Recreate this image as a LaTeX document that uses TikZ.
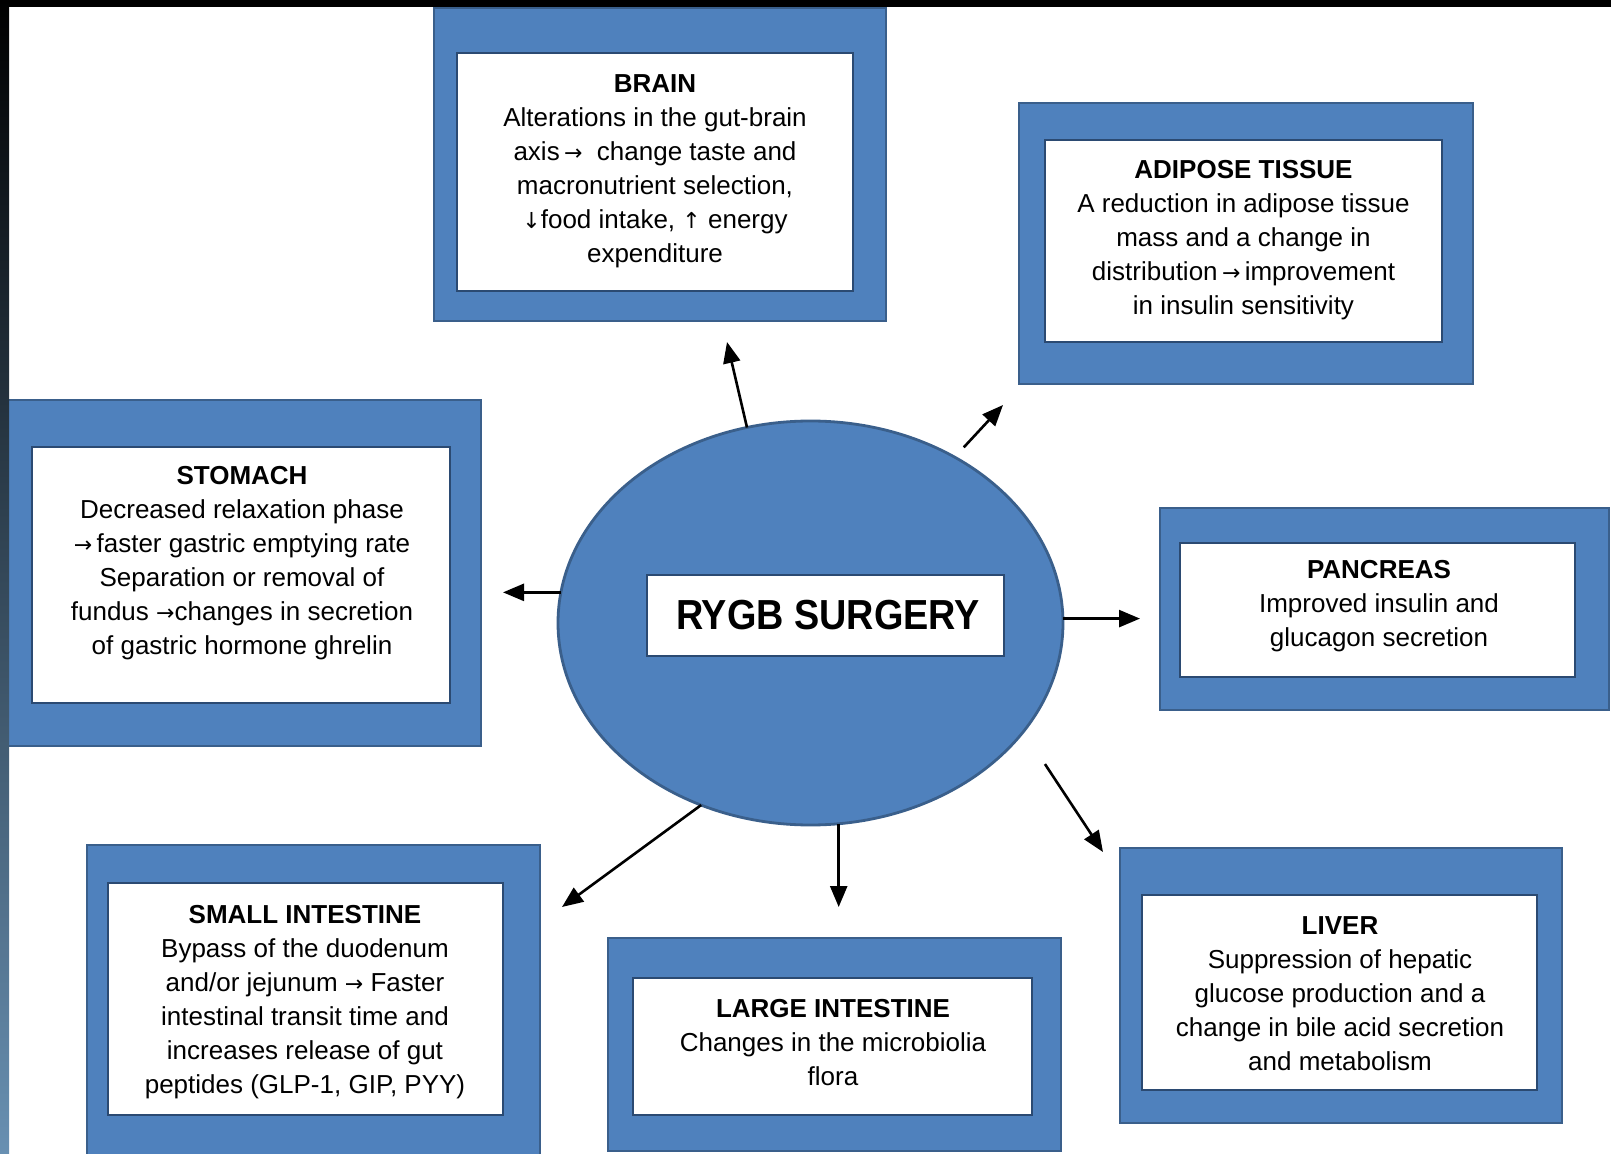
\documentclass[tikz,border=0pt]{standalone}
\usepackage{fontspec}
\setmainfont{Liberation Sans}
\newfontfamily\arrfont{DejaVu Sans}
\newfontfamily\titlefont[FakeStretch=0.9]{Liberation Sans}
\usetikzlibrary{shapes.geometric,arrows.meta}
\definecolor{boxblue}{HTML}{4F81BD}
\definecolor{boxedge}{HTML}{3A5F8B}
\definecolor{inneredge}{HTML}{2B4A72}
\definecolor{stripmid}{HTML}{17325C}
\definecolor{stripbot}{HTML}{6890B2}
\newcommand{\myra}{{\arrfont\fontsize{11}{17}\selectfont →}}
\newcommand{\mydn}{{\arrfont\fontsize{11}{17}\selectfont ↓}}
\newcommand{\myup}{{\arrfont\fontsize{11}{17}\selectfont ↑}}
\begin{document}
\begin{tikzpicture}[x=0.5pt,y=-0.5pt,
  outerbox/.style={draw=boxedge,fill=boxblue,line width=1.4pt,inner sep=0pt,outer sep=0pt},
  innerbox/.style={draw=inneredge,fill=white,line width=1.1pt,inner sep=0pt,outer sep=0pt},
  body/.style={align=center,font=\fontsize{13}{17}\selectfont,inner sep=0pt},
  conn/.style={-{Triangle[length=10.5pt,width=8.5pt]},line width=1.3pt,black}]
\useasboundingbox (0,0) rectangle (1611,1154);
\fill[white] (0,0) rectangle (1611,1154);

% BRAIN
\node[outerbox,minimum width=226pt,minimum height=156.5pt] (brainO) at (660,164.5) {};
\node[innerbox,minimum width=198pt,minimum height=119pt] (brainI) at (655,172) {};
\node[body] (brain) at (655,171) {{\bfseries BRAIN}\\Alterations in the gut-brain\\axis\,\myra\ \ change taste and\\macronutrient selection,\\\mydn food intake, \myup\ energy\\expenditure};

% ADIPOSE TISSUE
\node[outerbox,minimum width=227pt,minimum height=140.5pt] (adipO) at (1246,243.5) {};
\node[innerbox,minimum width=198.5pt,minimum height=101pt] (adipI) at (1243.5,241) {};
\node[body] (adip) at (1243.5,240.5) {{\bfseries ADIPOSE TISSUE}\\A reduction in adipose tissue\\mass and a change in\\distribution\,\myra\,improvement\\in insulin sensitivity};

% STOMACH
\node[outerbox,minimum width=238.5pt,minimum height=173pt] (stomO) at (242.5,573) {};
\node[innerbox,minimum width=209pt,minimum height=128pt] (stomI) at (241,575) {};
\node[body] (stom) at (242,563) {{\bfseries STOMACH}\\Decreased relaxation phase\\\myra\,faster gastric emptying rate\\Separation or removal of\\fundus \myra changes in secretion\\of gastric hormone ghrelin};

% PANCREAS
\node[outerbox,minimum width=224.5pt,minimum height=101pt] (pancO) at (1384.5,609) {};
\node[innerbox,minimum width=197.5pt,minimum height=67pt] (pancI) at (1377.5,610) {};
\node[body] (panc) at (1379,606) {{\bfseries PANCREAS}\\Improved insulin and\\glucagon secretion};

% SMALL INTESTINE
\node[outerbox,minimum width=226.5pt,minimum height=157.5pt] (smallO) at (313.5,1002.5) {};
\node[innerbox,minimum width=197.5pt,minimum height=116pt] (smallI) at (305.5,999) {};
\node[body] (small) at (305,1002) {{\bfseries SMALL INTESTINE}\\Bypass of the duodenum\\and/or jejunum \myra\ Faster\\intestinal transit time and\\increases release of gut\\peptides (GLP-1, GIP, PYY)};

% LARGE INTESTINE
\node[outerbox,minimum width=226.5pt,minimum height=106.5pt] (largeO) at (834.5,1044.5) {};
\node[innerbox,minimum width=199.5pt,minimum height=68.5pt] (largeI) at (832.5,1046.5) {};
\node[body] (large) at (833,1043) {{\bfseries LARGE INTESTINE}\\Changes in the microbiolia\\flora};

% LIVER
\node[outerbox,minimum width=221pt,minimum height=137.5pt] (liverO) at (1341,985.5) {};
\node[innerbox,minimum width=197.5pt,minimum height=97.5pt] (liverI) at (1339.5,992.5) {};
\node[body] (liver) at (1340,994) {{\bfseries LIVER}\\Suppression of hepatic\\glucose production and a\\change in bile acid secretion\\and metabolism};

% CENTRE
\node[ellipse,draw=boxedge,fill=boxblue,line width=1.4pt,inner sep=0pt,outer sep=0pt,
      minimum width=252.5pt,minimum height=202pt] (surg) at (810.5,623) {};
\node[innerbox,line width=1pt,minimum width=178.5pt,minimum height=40.5pt] (rygbbox) at (825.5,615.5) {};
\node[inner sep=0pt,font=\titlefont\bfseries\fontsize{21}{24}\selectfont] (rygb) at (828,615) {RYGB SURGERY};

% arrow tips
\coordinate (tBrain) at (727,342);
\coordinate (tAdip) at (1003,405);
\coordinate (tStom) at (503,595);
\coordinate (tPanc) at (1140,616);
\coordinate (tLiver) at (1103,852);
\coordinate (tLarge) at (839,907);
\coordinate (tSmall) at (562,907);

\draw[conn] (surg.108.5) -- (tBrain);
\draw[conn,shorten <=6.7pt] (surg.49.25) -- (tAdip);
\draw[conn] (surg.173.5) -- (surg.173.5 -| tStom);
\draw[conn] (surg.1.6) -- (surg.1.6 -| tPanc);
\draw[conn,shorten <=19.5pt] (surg.-27.9) -- (tLiver);
\draw[conn] (surg.-82) -- (surg.-82 |- tLarge);
\draw[conn] (surg.-121.8) -- (tSmall);

% frame bands
\fill[black] (0,0) rectangle (1611,7);
\shade[top color=black,middle color=stripmid,bottom color=stripbot] (0,0) rectangle (9,1154);
\end{tikzpicture}
\end{document}
